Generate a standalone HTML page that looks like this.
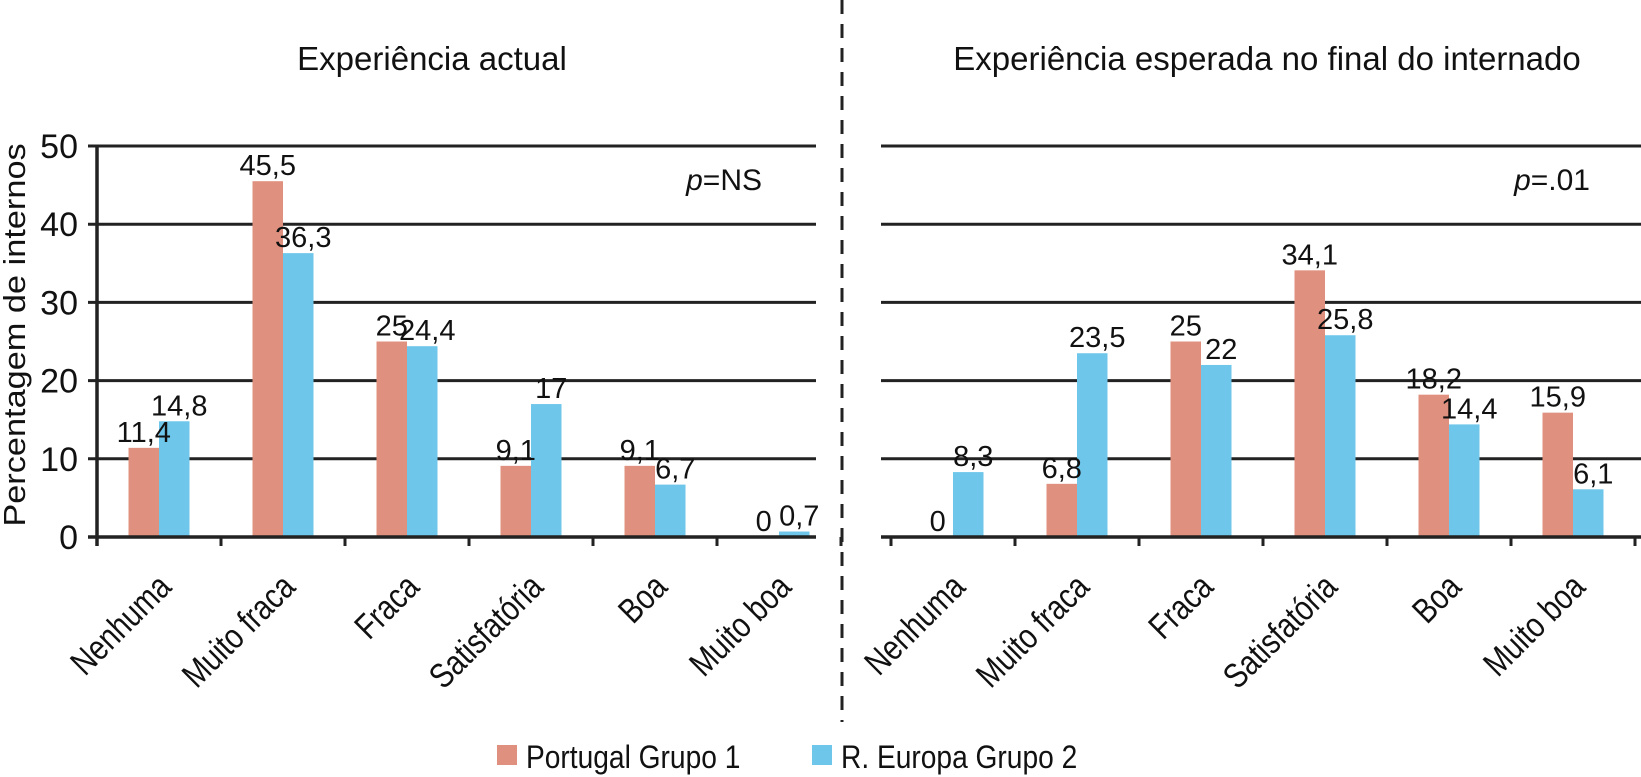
<!DOCTYPE html>
<html><head><meta charset="utf-8"><style>
html,body{margin:0;padding:0;background:#fff}
svg{display:block;font-family:"Liberation Sans",sans-serif}
</style></head><body>
<svg id="chart" width="1641" height="777" viewBox="0 0 1641 777">
<g id="g"></g>
</svg>
<script>
const categories = ["Nenhuma","Muito fraca","Fraca","Satisfatória","Boa","Muito boa"];
const actualPortugal = [11.4,45.5,25,9.1,9.1,0];
const actualEuropa = [14.8,36.3,24.4,17,6.7,0.7];
const expectedPortugal = [0,6.8,25,34.1,18.2,15.9];
const expectedEuropa = [8.3,23.5,22,25.8,14.4,6.1];
const yTicks = [0,10,20,30,40,50];
const actualLabelsP = ["11,4","45,5","25","9,1","9,1","0"];
const actualLabelsE = ["14,8","36,3","24,4","17","6,7","0,7"];
const expectedLabelsP = ["0","6,8","25","34,1","18,2","15,9"];
const expectedLabelsE = ["8,3","23,5","22","25,8","14,4","6,1"];

const NS="http://www.w3.org/2000/svg";
const g=document.getElementById('g');
function mk(t,a,txt){const e=document.createElementNS(NS,t);for(const k in a)e.setAttribute(k,a[k]);if(txt!==undefined)e.textContent=txt;g.appendChild(e);return e;}
const Y0=537,Y50=146;
function y(v){return Y0-(v/50)*(Y0-Y50);}
const step=124,bw=30.5;
const PINK="#e0907e",BLUE="#6ec6ea";

function panel(x0,gridStart,gridEnd,vp,ve,lp,le,name,axisLine){
  function x(i){return x0+step*(i+0.5);}
  yTicks.forEach(t=>{if(t===0)return;
    const l=mk('line',{x1:gridStart,x2:gridEnd,y1:y(t),y2:y(t),stroke:'#222','stroke-width':3});
    
    
  });
  categories.forEach((c,i)=>{
    const cx=x(i);
    const r1=mk('rect',{x:cx-bw,y:y(vp[i]),width:bw,height:Y0-y(vp[i]),fill:PINK});
    
    
    const r2=mk('rect',{x:cx,y:y(ve[i]),width:bw,height:Y0-y(ve[i]),fill:BLUE});
    
    
    const t1=mk('text',{x:cx-bw/2,y:y(vp[i])-6,'font-size':29,'text-anchor':'middle',fill:'#111'},lp[i]);
    
    
    const t2=mk('text',{x:cx+bw/2+5,y:y(ve[i])-6,'font-size':29,'text-anchor':'middle',fill:'#111'},le[i]);
    
    
    const lx=cx+14,ly=Y0+52;
    const xl=mk('text',{x:0,y:0,'font-size':35,'text-anchor':'end',fill:'#111',transform:'translate('+lx+' '+ly+') rotate(-45) scale(0.82 1)'},c);
    
    
  });
  for(let i=0;i<=6;i++){
    const tk=mk('line',{x1:x0+step*i,x2:x0+step*i,y1:Y0,y2:Y0+9,stroke:'#222','stroke-width':3});
    
    
  }
  const ax=mk('line',{x1:gridStart,x2:gridEnd,y1:Y0,y2:Y0,stroke:'#222','stroke-width':3.5});
  
  
  if(axisLine){
    const ya=mk('line',{x1:x0,x2:x0,y1:Y50,y2:Y0+9,stroke:'#222','stroke-width':3.5});
    
    
  }
}
panel(97,88,816,actualPortugal,actualEuropa,actualLabelsP,actualLabelsE,'actual',true);
panel(891,881,1641,expectedPortugal,expectedEuropa,expectedLabelsP,expectedLabelsE,'expected',false);

yTicks.forEach(t=>{
  const l=mk('text',{x:78,y:y(t)+12,'font-size':34,'text-anchor':'end',fill:'#111'},String(t));
  
  
});
</script>
<script>
const s=document.getElementById('chart');
function add(t,a,txt){const e=document.createElementNS("http://www.w3.org/2000/svg",t);for(const k in a)e.setAttribute(k,a[k]);if(txt!==undefined)e.textContent=txt;s.appendChild(e);return e;}
let e;
e=add('text',{x:0,y:0,'font-size':33,'text-anchor':'middle',fill:'#111',transform:'translate(14 335) rotate(-90) scale(1.04 0.92)',dy:12},'Percentagem de internos');


e=add('text',{x:432,y:70,'font-size':33,'text-anchor':'middle',fill:'#111'},'Experiência actual');


e=add('text',{x:1267,y:70,'font-size':33,'text-anchor':'middle',fill:'#111'},'Experiência esperada no final do internado');


e=add('text',{x:762,y:190,'font-size':30,'text-anchor':'end',fill:'#111'},'');
e.innerHTML='<tspan font-style="italic">p</tspan>=NS';


e=add('text',{x:1590,y:190,'font-size':30,'text-anchor':'end',fill:'#111'},'');
e.innerHTML='<tspan font-style="italic">p</tspan>=.01';


e=add('line',{x1:842,x2:842,y1:0,y2:722,stroke:'#222','stroke-width':3,'stroke-dasharray':'14,10'});


e=add('rect',{x:497,y:745,width:20,height:20,fill:'#e0907e'});


e=add('text',{x:0,y:0,'font-size':32,fill:'#111',transform:'translate(526 768) scale(0.88 1)'},'Portugal Grupo 1');


e=add('rect',{x:812,y:745,width:20,height:20,fill:'#6ec6ea'});


e=add('text',{x:0,y:0,'font-size':32,fill:'#111',transform:'translate(841 768) scale(0.88 1)'},'R. Europa Grupo 2');


</script>
</body></html>
